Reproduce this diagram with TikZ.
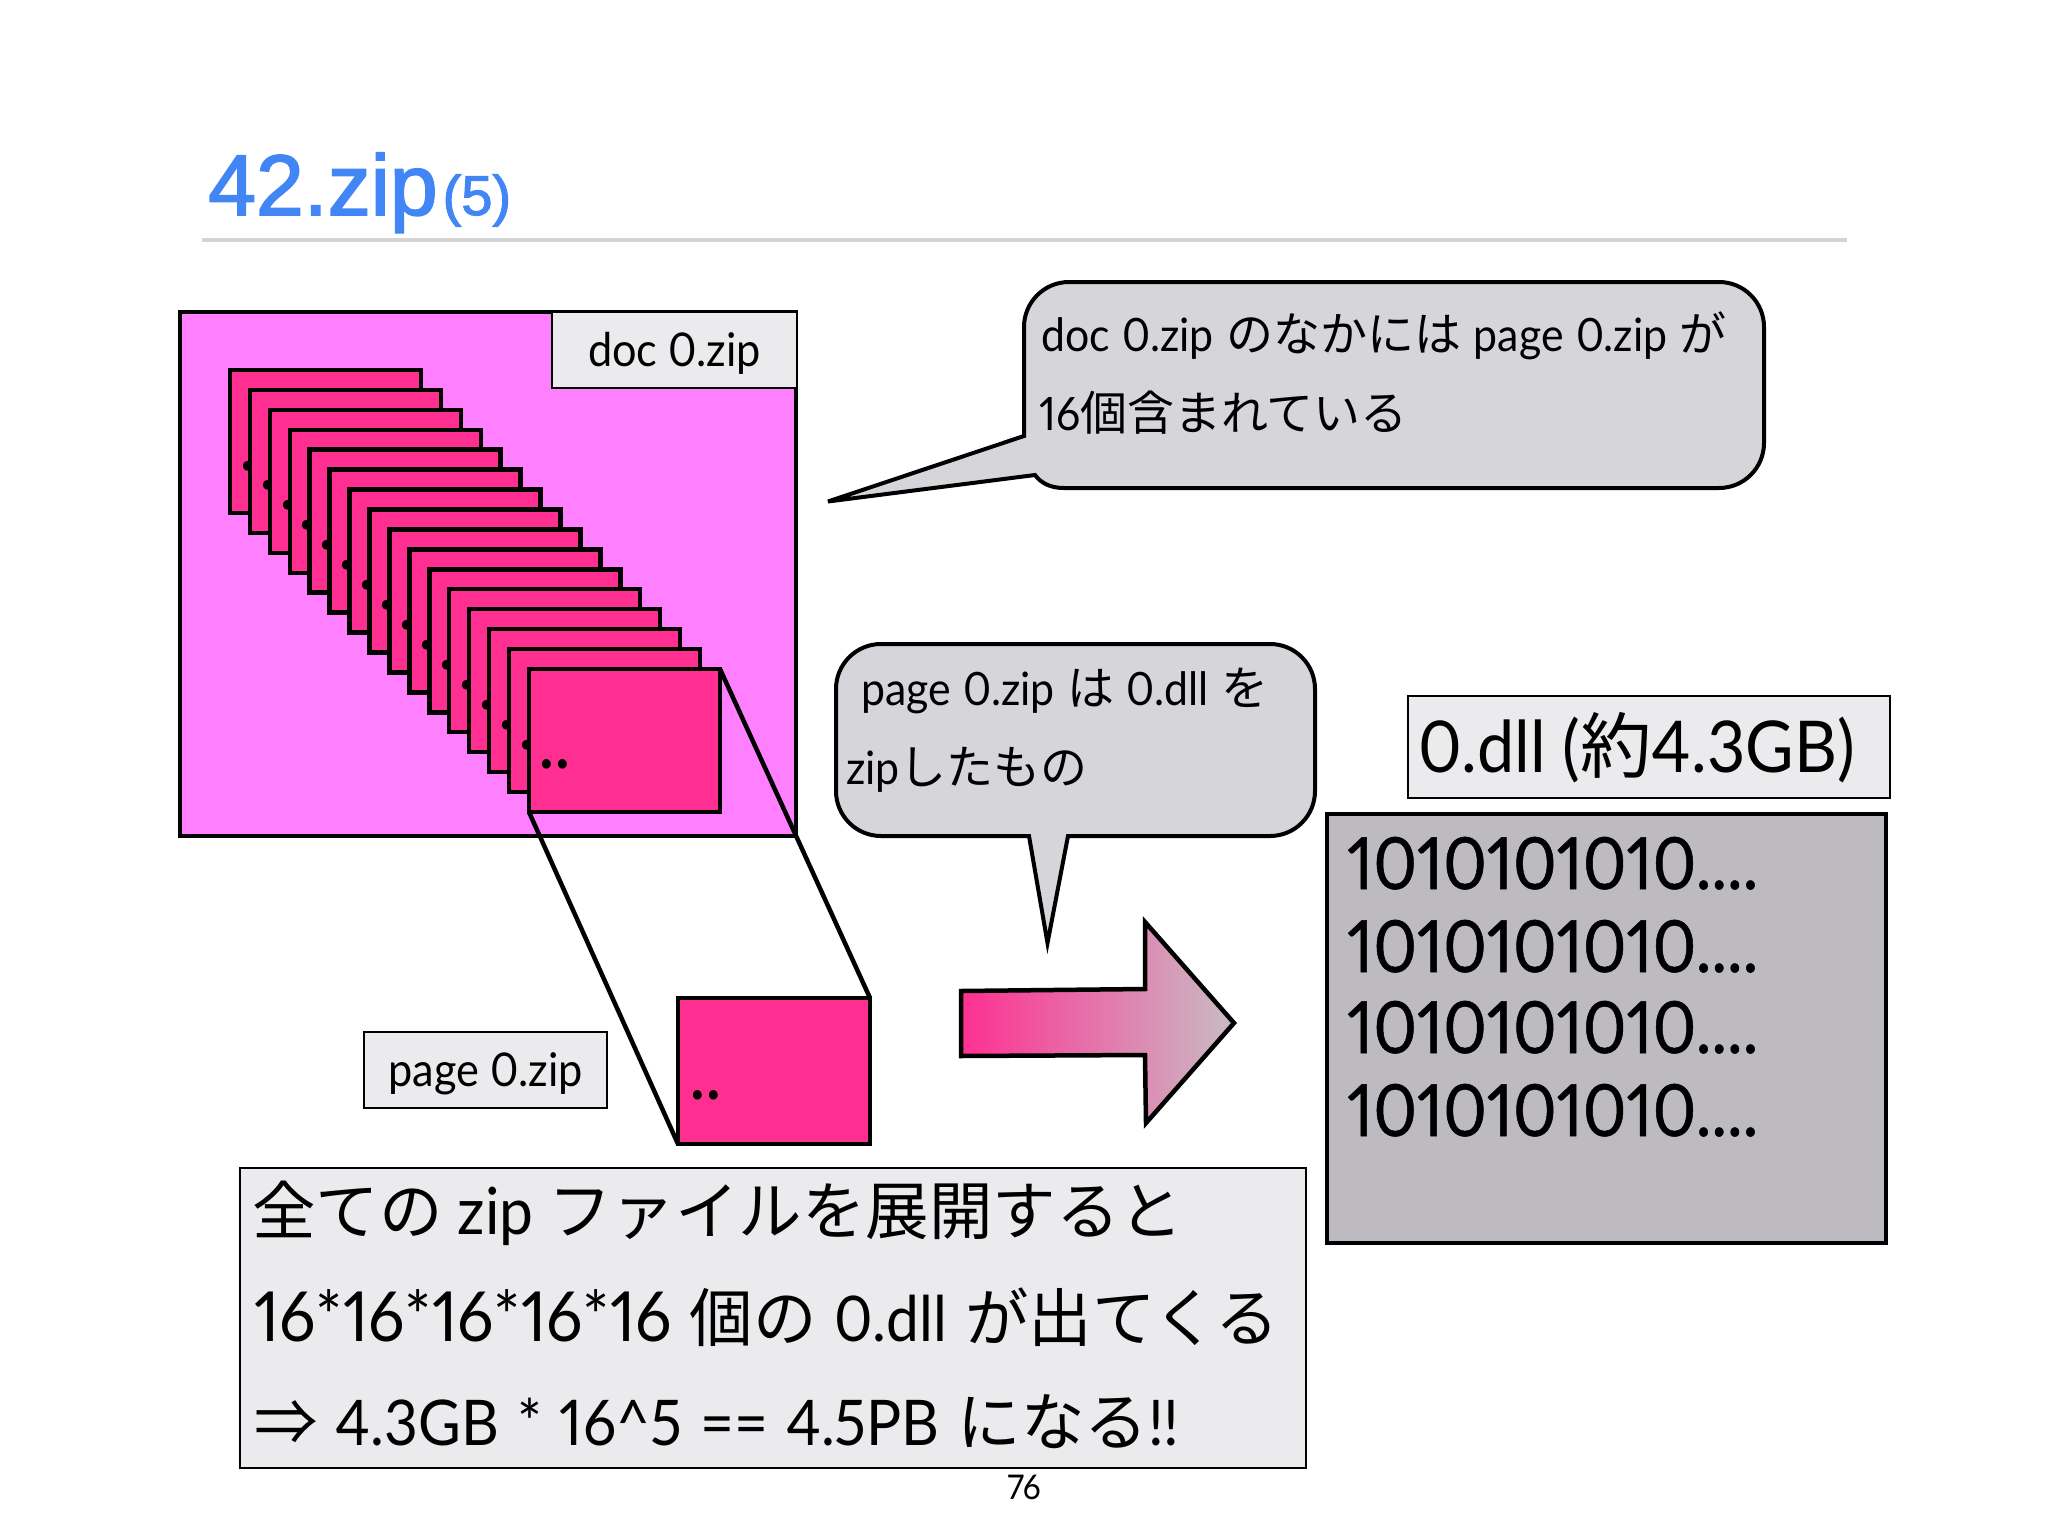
\documentclass[tikz,border=0pt]{standalone}
\usepackage{fontspec}
\setmainfont{Lato}[FakeStretch=0.93,Numbers={Lining,Proportional}]
\newfontfamily\jpfont{Noto Sans CJK JP}
\newfontfamily\titlefont{Liberation Sans}[FakeBold=2]
\newfontfamily\bitsfont{Lato}[FakeStretch=0.92,FakeBold=0.7,Numbers={Lining,Proportional}]
\newcommand{\fs}[1]{\fontsize{#1}{#1}\selectfont}
\newcommand{\jp}[1]{{\jpfont\fs{47}#1}}
\newcommand{\jpb}[1]{{\jpfont\fs{63.5}#1}}
\newcommand{\saysfont}{\fs{46}\spaceskip=12.5pt\relax}
\newcommand{\sumfont}{\fs{63}\spaceskip=18pt\relax}

\definecolor{pagepink}{HTML}{FF2F92}
\definecolor{docpink}{HTML}{FF80FF}
\definecolor{labelgray}{HTML}{EBEAED}
\definecolor{calloutgray}{HTML}{D6D5DA}
\definecolor{dllgray}{HTML}{BDBBBF}
\definecolor{arrowgray}{HTML}{C9BCC4}
\definecolor{titleblue}{HTML}{4285F4}

\tikzset{
  pagebox/.style={draw, line width=4.5pt, fill=pagepink, anchor=north west, outer sep=0pt,
    minimum width=191pt, minimum height=143pt, inner sep=0pt},
  dots/.style={anchor=base west, inner sep=0pt, font=\fs{76}},
  tag/.style={draw, line width=1.5pt, fill=labelgray, anchor=north west, inner sep=0pt, outer sep=0pt},
  callout/.style={draw, line width=4pt, fill=calloutgray, line join=miter},
  says/.style={anchor=base west, inner sep=0pt, font=\saysfont},
  bits/.style={anchor=base west, inner sep=0pt, font=\bitsfont\fs{72}},
  sumline/.style={anchor=base west, inner sep=0pt, font=\sumfont}
}

\begin{document}
\begin{tikzpicture}[x=1pt,y=-1pt]
    \useasboundingbox (0,0) rectangle (2048,1536);

    % Titulo
    \node[anchor=base west, inner sep=0pt, text=titleblue] (title) at (208,215)
        {\titlefont\fs{86}42.zip\kern5pt\fs{56}(5)};
    \coordinate (ruleL) at (202,240);
    \coordinate (ruleR) at (1847,240);
    \draw[line width=3.5pt, color=black!17] (ruleL) -- (ruleR);

    % doc 0.zip
    \node[draw, line width=4.5pt, fill=docpink, anchor=north west, outer sep=0pt, minimum width=616pt,
        minimum height=524pt, inner sep=0pt] (doc) at (180,312) {};
    \node[tag, minimum width=245pt, minimum height=76pt, text depth=1pt] (doctag) at (552,312) {\fs{46.5}doc 0.zip};

    % Paginas
    \foreach \i in {0,...,15} {
        \node[pagebox] (page\i) at (230+19.93*\i,370+19.93*\i) {};
        \node[dots] (dots\i) at (230+19.93*\i+9,370+19.93*\i+100) {..};
    }

    % page 0.zip
    \node[tag, minimum width=243pt, minimum height=76pt, text depth=1pt] (pagetag) at (364,1032) {\fs{46.5}page 0.zip};
    \node[pagebox, minimum width=192pt, minimum height=146pt] (zoomed) at (678,998) {};
    \node[dots] (zoomdots) at (689,1099) {..};
    \draw[line width=4.5pt] (page15.south west) -- (zoomed.south west);
    \draw[line width=4.5pt] (page15.north east) -- (zoomed.north east);

    % Globos
    \draw[callout] (1024,436) -- (1024,327) arc (180:270:45) -- (1719,282) arc (270:360:45)
        -- (1764,443) arc (0:90:45) -- (1064,488) .. controls (1050,488) and (1041,483) .. (1035,475) -- (828,501.5) -- cycle;
    \node[says] (say1a) at (1041,351) {doc 0.zip \jp{のなかには} page 0.zip \jp{が}};
    \node[says] (say1b) at (1039,430) {16\jp{個含まれている}};

    \draw[callout] (1029,836) -- (881,836) arc (90:180:45) -- (836,689) arc (180:270:45)
        -- (1270,644) arc (270:360:45) -- (1315,791) arc (0:90:45) -- (1068,836) -- (1047.5,943) -- cycle;
    \node[says] (say2a) at (861,705) {page 0.zip \jp{は} 0.dll \jp{を}};
    \node[says] (say2b) at (846,784) {zip\jp{したもの}};

    % Flecha
    \draw[line width=4.5pt, left color=pagepink, right color=arrowgray]
        (961,991) -- (1145,989) -- (1145,922) -- (1234,1023) -- (1146,1123) -- (1145,1055) -- (961,1056) -- cycle;

    % 0.dll
    \node[tag, minimum width=482pt, minimum height=102pt] (dlltag) at (1408,696) {};
    \node[anchor=base west, inner sep=0pt, font=\fs{71.5}] (dllname) at (1418,772) {0.dll ({\jpfont 約}4.3GB)};
    \node[draw, line width=4.5pt, fill=dllgray, anchor=north west, outer sep=0pt, minimum width=559pt,
        minimum height=429pt, inner sep=0pt] (dll) at (1327,814) {};
    \foreach \n/\y in {a/889,b/972,c/1053,d/1136} {
        \node[bits] (bits\n) at (1347,\y) {1010101010....};
    }

    % Resumen
    \node[tag, minimum width=1066pt, minimum height=300pt] (sum) at (240,1168) {};
    \node[sumline] (suma) at (252,1234) {\spaceskip=15pt\relax\jpb{全ての} {\fs{65}zip} \jpb{ファイルを展開すると}};
    \node[sumline] (sumb) at (254,1341) {{\fs{69}16*16*16*16*16} \jpb{個の} 0.dll \jpb{が出てくる}};
    \node[sumline] (sumc) at (254,1445) {\jpb{⇒} 4.3GB * 16\^{}5 == 4.5PB \jpb{になる}!!};

    % Numero
    \node[inner sep=0pt, font=\fs{34}] (pagenum) at (1024,1487) {76};
\end{tikzpicture}
\end{document}
